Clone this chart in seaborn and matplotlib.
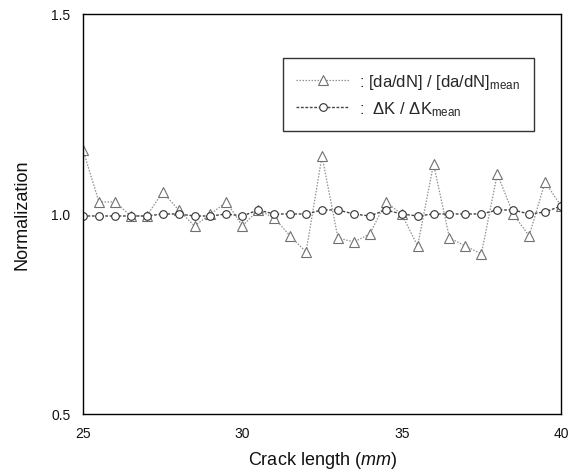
import matplotlib
matplotlib.use("Agg")
import matplotlib.pyplot as plt
import numpy as np
import pandas as pd
import seaborn as sns

# Crack length positions (mm)
crack_length = [25.0, 25.5, 26.0, 26.5, 27.0, 27.5, 28.0, 28.5, 29.0, 29.5,
                30.0, 30.5, 31.0, 31.5, 32.0, 32.5, 33.0, 33.5, 34.0, 34.5,
                35.0, 35.5, 36.0, 36.5, 37.0, 37.5, 38.0, 38.5, 39.0, 39.5, 40.0]

# Normalized crack growth rate [da/dN]/[da/dN]mean
dadn_norm = [1.16, 1.03, 1.03, 0.995, 0.995, 1.055, 1.01, 0.97, 1.0, 1.03,
             0.97, 1.01, 0.99, 0.945, 0.905, 1.145, 0.94, 0.93, 0.95, 1.03,
             1.0, 0.92, 1.125, 0.94, 0.92, 0.90, 1.10, 1.0, 0.945, 1.08, 1.02]

# Normalized stress intensity factor range dK/dKmean
dk_norm = [0.995, 0.995, 0.995, 0.995, 0.995, 1.0, 1.0, 0.995, 0.995, 1.0,
           0.995, 1.01, 1.0, 1.0, 1.0, 1.01, 1.01, 1.0, 0.995, 1.01,
           1.0, 0.995, 1.0, 1.0, 1.0, 1.0, 1.01, 1.01, 1.0, 1.005, 1.02]

x_ticks = [25, 30, 35, 40]
y_ticks = [0.5, 1.0, 1.5]

sns.set_theme(style="white")
plt.rcParams["font.family"] = ["Liberation Sans Narrow", "Liberation Sans", "DejaVu Sans"]
plt.rcParams["mathtext.fontset"] = "custom"
plt.rcParams["mathtext.rm"] = "Liberation Sans"
plt.rcParams["mathtext.it"] = "Liberation Sans:italic"

df = pd.DataFrame({"a": crack_length, "dadn": dadn_norm, "dk": dk_norm})

fig = plt.figure(figsize=(5.71, 4.77), dpi=100)
ax = fig.add_axes([0.1454, 0.130, 0.8371, 0.8386])

sns.lineplot(data=df, x="a", y="dadn", ax=ax, color="#909090", linewidth=0.9,
             linestyle=(0, (1.2, 1.2)), marker="^", markersize=6.5,
             markerfacecolor="white", markeredgecolor="#707070", markeredgewidth=0.8,
             label=r": [da/dN] / [da/dN]$_{\mathrm{mean}}$")
sns.lineplot(data=df, x="a", y="dk", ax=ax, color="#444444", linewidth=1.0,
             linestyle=(0, (2.0, 1.2)), marker="o", markersize=5.5,
             markerfacecolor="white", markeredgecolor="#333333", markeredgewidth=0.8,
             label=r":  $\Delta$K / $\Delta$K$_{\mathrm{mean}}$")

ax.set_xlim(25, 40)
ax.set_ylim(0.5, 1.5)
ax.set_xticks(x_ticks)
ax.set_xticklabels([str(t) for t in x_ticks])
ax.set_yticks(y_ticks)
ax.set_yticklabels([f"{t:.1f}" for t in y_ticks])
ax.tick_params(axis="both", length=0, labelsize=10, colors="#111111", pad=9)

for side in ["left", "right", "top", "bottom"]:
    ax.spines[side].set_visible(True)
    ax.spines[side].set_color("black")
    ax.spines[side].set_linewidth(1.0)

ax.set_xlabel(r"Crack length ($\it{mm}$)", fontsize=13, family=["Liberation Sans", "DejaVu Sans"],
              labelpad=6, color="#111111")
ax.set_ylabel("Normalization", fontsize=13, family=["Liberation Sans", "DejaVu Sans"],
              labelpad=15, color="#111111")

leg = ax.legend(loc="upper right", bbox_to_anchor=(0.96, 0.91), frameon=True,
                fancybox=False, shadow=False, handlelength=3.2,
                borderpad=0.8, labelspacing=0.5, handletextpad=0.6,
                prop={"family": ["Liberation Sans", "DejaVu Sans"], "size": 12})
leg.get_frame().set_edgecolor("black")
leg.get_frame().set_linewidth(1.0)

fig.savefig("out.png", dpi=100)
